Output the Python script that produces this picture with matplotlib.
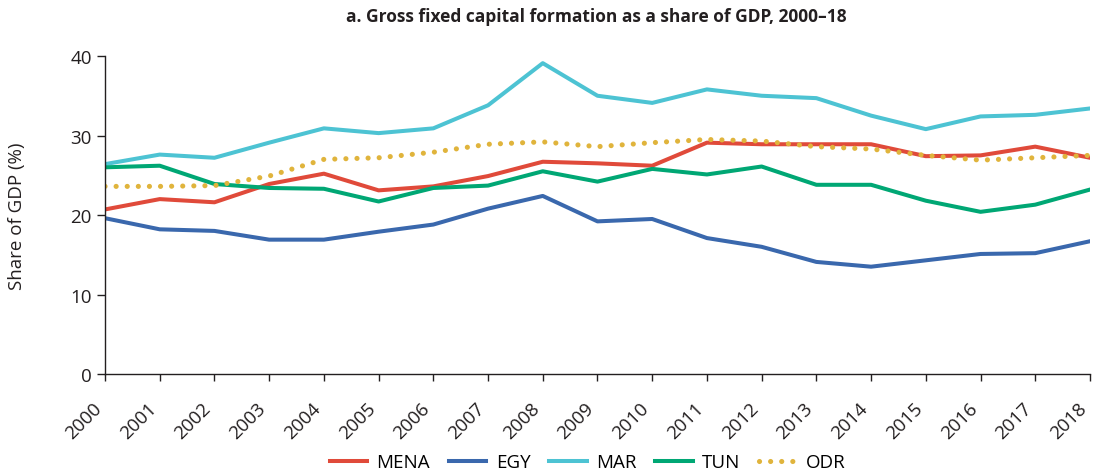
import numpy as np
import matplotlib.pyplot as plt
import matplotlib.transforms as mtransforms

plt.rcParams['font.family'] = ['Open Sans', 'DejaVu Sans']

years = list(range(2000, 2019))

mena = [20.7, 22.0, 21.6, 23.9, 25.2, 23.1, 23.6, 24.9, 26.7, 26.5, 26.2,
        29.1, 28.9, 28.9, 28.9, 27.4, 27.5, 28.6, 27.2]
egy = [19.6, 18.2, 18.0, 16.9, 16.9, 17.9, 18.8, 20.8, 22.4, 19.2, 19.5,
       17.1, 16.0, 14.1, 13.5, 14.3, 15.1, 15.2, 16.7]
mar = [26.4, 27.6, 27.2, 29.1, 30.9, 30.3, 30.9, 33.8, 39.1, 35.0, 34.1,
       35.8, 35.0, 34.7, 32.5, 30.8, 32.4, 32.6, 33.4]
tun = [26.0, 26.2, 23.9, 23.4, 23.3, 21.7, 23.4, 23.7, 25.5, 24.2, 25.8,
       25.1, 26.1, 23.8, 23.8, 21.8, 20.4, 21.3, 23.2]
odr = [23.6, 23.6, 23.7, 24.9, 27.0, 27.2, 27.9, 28.9, 29.2, 28.6, 29.1,
       29.5, 29.3, 28.6, 28.3, 27.5, 26.9, 27.2, 27.5]

fig = plt.figure(figsize=(10.95, 4.77), dpi=100)
ax = fig.add_axes([0.0959, 0.2138, 0.8995, 0.6667])

lw = 2.9
ax.plot(years, mena, color='#e04a3a', lw=lw, label='MENA')
ax.plot(years, egy, color='#3a68ad', lw=lw, label='EGY')
ax.plot(years, mar, color='#4dc3d3', lw=lw, label='MAR')
ax.plot(years, tun, color='#00a774', lw=lw, label='TUN')
ax.plot(years, odr, color='#e0b43c', lw=3.7, linestyle=(0, (0.01, 2.15)),
        dash_capstyle='round', label='ODR')

fs = 13.5
ax.set_xlim(2000, 2018)
ax.set_ylim(0, 40)
ax.set_xticks(years)
ax.set_yticks([0, 10, 20, 30, 40])
ax.tick_params(axis='y', labelsize=fs, labelcolor='#231f20', length=6,
               width=1, color='#231f20')
ax.tick_params(axis='x', length=5, width=1, color='#231f20', pad=13)
ax.set_xticklabels([str(y) for y in years], rotation=45, ha='right', va='top',
                   rotation_mode='anchor', fontsize=fs, color='#231f20')
# nudge rotated year labels left so they end under their tick
shift = mtransforms.ScaledTranslation(-9 / 72, 0, fig.dpi_scale_trans)
for lab in ax.get_xticklabels():
    lab.set_transform(lab.get_transform() + shift)
for s in ['top', 'right']:
    ax.spines[s].set_visible(False)
for s in ['left', 'bottom']:
    ax.spines[s].set_color('#231f20')
    ax.spines[s].set_linewidth(1)

ax.set_ylabel('Share of GDP (%)', fontsize=fs, color='#231f20', labelpad=32)
fig.text(0.545, 0.965, 'a. Gross fixed capital formation as a share of GDP, 2000\u201318',
         ha='center', va='center', fontsize=12.5, fontweight='bold', color='#231f20')

ax.legend(loc='center', bbox_to_anchor=(0.49, -0.277), ncol=5, frameon=False,
          fontsize=fs, handlelength=2.0, columnspacing=1.0, handletextpad=0.5)

fig.savefig('out.png', dpi=100)
